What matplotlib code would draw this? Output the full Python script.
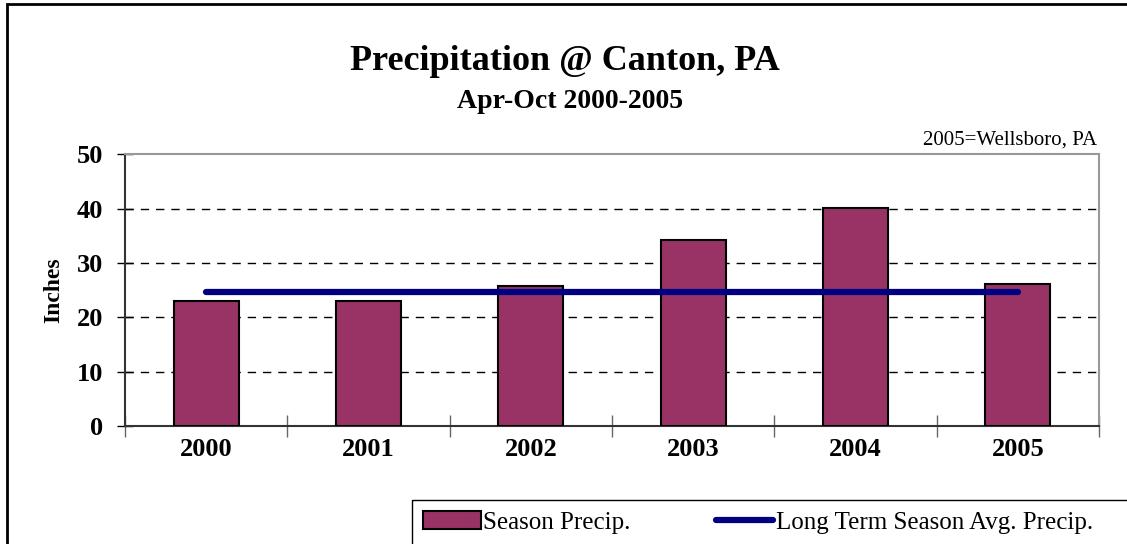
import matplotlib.pyplot as plt
import numpy as np
from matplotlib.patches import Rectangle

plt.rcParams['font.family'] = ['Liberation Serif', 'DejaVu Serif']

# data
years = ['2000', '2001', '2002', '2003', '2004', '2005']
season_precip = [23.1, 23.1, 25.8, 34.2, 40.1, 26.1]
long_term_avg = [24.6, 24.6, 24.6, 24.6, 24.6, 24.6]

bar_color = '#993366'
line_color = '#000080'

fig = plt.figure(figsize=(11.27, 5.44), dpi=100)
ax = fig.add_axes([125 / 1127, 1 - 426 / 544, 974 / 1127, 271.5 / 544])

x = np.arange(len(years))
bars = ax.bar(x, season_precip, width=0.4, color=bar_color, edgecolor='black',
              linewidth=1.5, zorder=3, label='Season Precip.')
line, = ax.plot(x, long_term_avg, color=line_color, linewidth=4.5,
                solid_capstyle='round', zorder=4, label='Long Term Season Avg. Precip.')

ax.set_xlim(-0.5, len(years) - 0.5)
ax.set_ylim(0, 50)
ax.set_yticks(range(0, 51, 10))
ax.set_yticklabels([str(v) for v in range(0, 51, 10)], fontsize=19, fontweight='bold')

# category boundaries as ticks, labels at centres
ax.set_xticks(np.arange(-0.5, len(years), 1))
ax.set_xticklabels([])
ax.set_xticks(x, minor=True)
ax.set_xticklabels(years, minor=True, fontsize=19, fontweight='bold')
ax.tick_params(axis='x', which='minor', length=0, pad=9)
ax.tick_params(axis='x', which='major', direction='inout', length=16, width=1, color='#666666')
ax.tick_params(axis='y', direction='inout', length=12, width=1, pad=10)

ax.set_ylabel('Inches', fontsize=17, fontweight='bold', labelpad=9)

for v in range(10, 50, 10):
    ax.axhline(v, color='black', linestyle=(0, (6, 5)), linewidth=1, zorder=1)

ax.spines['top'].set_color('#999999')
ax.spines['right'].set_color('#999999')
ax.spines['left'].set_color('#333333')
ax.spines['bottom'].set_color('#333333')
for s in ax.spines.values():
    s.set_linewidth(1.5)

fig.text(565 / 1127, 1 - 62 / 544, 'Precipitation @ Canton, PA', ha='center', va='center',
         fontsize=26, fontweight='bold')
fig.text(570 / 1127, 1 - 101 / 544, 'Apr-Oct 2000-2005', ha='center', va='center',
         fontsize=20, fontweight='bold')
fig.text(1097 / 1127, 1 - 140 / 544, '2005=Wellsboro, PA', ha='right', va='center',
         fontsize=15)

# outer frame (cut at right and bottom like the original)
fig.patches.append(Rectangle((7 / 1127, -0.1), 1.2, 1 - 4 / 544 + 0.1,
                             transform=fig.transFigure, fill=False,
                             edgecolor='black', linewidth=2))

# legend box also runs off the right/bottom edge
fig.patches.append(Rectangle((412 / 1127, -0.1), 1.0, 0.1 + 1 - 500 / 544,
                             transform=fig.transFigure, fill=False,
                             edgecolor='black', linewidth=1))

leg = fig.legend([bars, line], ['Season Precip.', 'Long Term Season Avg. Precip.'],
                 loc='upper left', bbox_to_anchor=(412 / 1127, 1 - 500 / 544),
                 ncol=2, fontsize=18, frameon=False,
                 handlelength=2.3, handletextpad=0.1,
                 columnspacing=3.4, borderpad=0.45, borderaxespad=0)

fig.savefig('out.png', dpi=100)
